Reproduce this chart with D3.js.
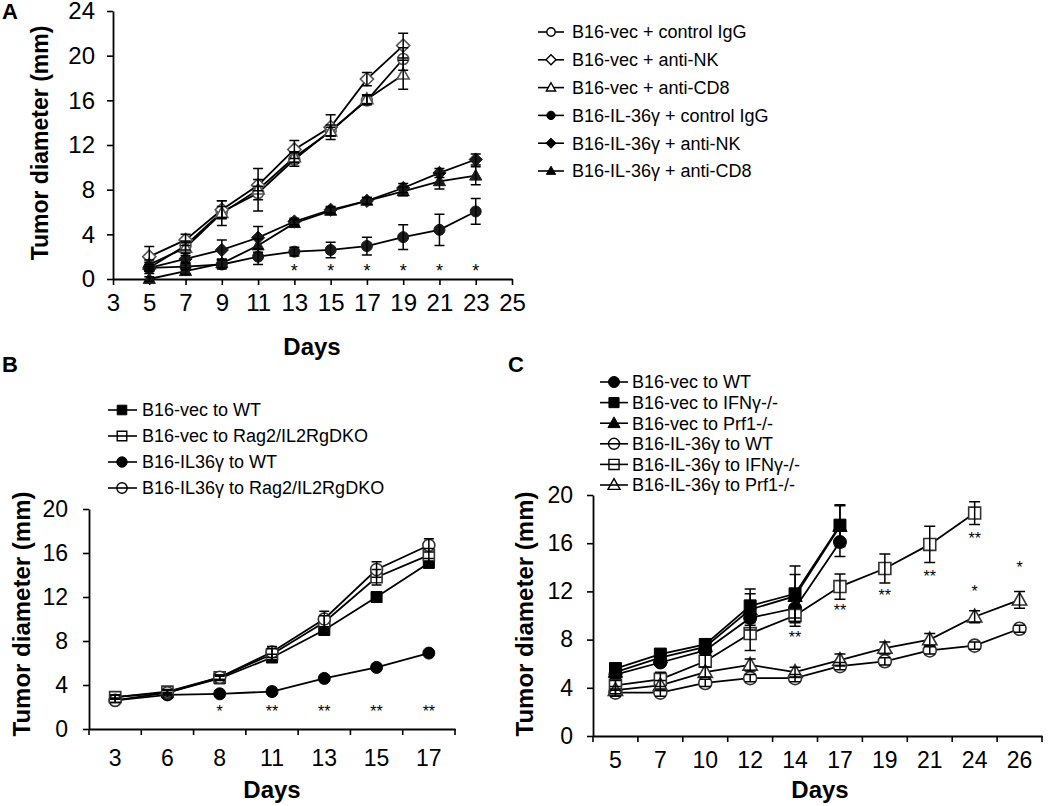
<!DOCTYPE html>
<html><head><meta charset="utf-8">
<script src="https://cdn.jsdelivr.net/npm/d3@7"></script>
<style>body{margin:0;background:#fff}</style>
</head><body><svg id="chart" width="1050" height="806"></svg>
<script>
// ---------------- DATA ----------------
// Panel A
const daysA = [5, 7, 9, 11, 13, 15, 17, 19, 21, 23];
const aXTicks = [3, 5, 7, 9, 11, 13, 15, 17, 19, 21, 23, 25];
const aYTicks = [0, 4, 8, 12, 16, 20, 24];
const aVecIgG = [1.0, 3.0, 6.0, 7.7, 10.7, 13.3, 16.0, 19.7];
const aVecIgGErr = [0.5, 0.4, 0.5, 0.6, 0.6, 0.5, 0.4, 1.0];
const aVecNK = [2.0, 3.5, 6.2, 8.4, 11.6, 13.6, 17.9, 20.9];
const aVecNKErr = [0.9, 0.5, 0.8, 0.5, 0.8, 1.1, 0.6, 1.1];
const aVecCD8 = [1.3, 2.8, 5.9, 8.0, 10.9, 13.2, 16.1, 18.3];
const aVecCD8Err = [0.4, 0.5, 1.1, 1.9, 0.5, 0.4, 0.4, 1.3];
const aIlIgG = [1.0, 1.1, 1.3, 2.0, 2.45, 2.6, 2.95, 3.75, 4.4, 6.05];
const aIlIgGErr = [0.3, 0.3, 0.4, 0.7, 0.4, 0.7, 0.8, 1.1, 1.4, 1.15];
const aIlNK = [1.0, 1.8, 2.6, 3.7, 5.15, 6.2, 7.0, 8.15, 9.5, 10.7];
const aIlNKErr = [0.3, 0.3, 0.9, 1.0, 0.3, 0.3, 0.3, 0.4, 0.4, 0.5];
const aIlCD8 = [0.0, 0.7, 1.4, 3.0, 5.0, 6.1, 7.0, 7.85, 8.75, 9.25];
const aIlCD8Err = [0.2, 0.3, 0.4, 0.6, 0.3, 0.3, 0.3, 0.4, 0.7, 0.8];
const aNames = ["B16-vec + control IgG", "B16-vec + anti-NK", "B16-vec + anti-CD8",
                "B16-IL-36γ + control IgG", "B16-IL-36γ + anti-NK", "B16-IL-36γ + anti-CD8"];
const aStarDays = [13, 15, 17, 19, 21, 23];
const aStarLevel = 1.1;

// Panel B
const daysB = ["3", "6", "8", "11", "13", "15", "17"];
const bYTicks = [0, 4, 8, 12, 16, 20];
const bVecWT = [2.9, 3.3, 4.6, 6.5, 9.0, 12.0, 15.1];
const bVecWTErr = [0.2, 0.2, 0.2, 0.3, 0.3, 0.3, 0.4];
const bVecRag = [2.9, 3.4, 4.7, 6.8, 9.7, 13.8, 15.8];
const bVecRagErr = [0.2, 0.2, 0.2, 0.5, 0.6, 0.7, 0.6];
const bIlWT = [2.6, 3.1, 3.2, 3.4, 4.6, 5.6, 6.9];
const bIlWTErr = [0.2, 0.2, 0.2, 0.2, 0.2, 0.2, 0.2];
const bIlRag = [2.6, 3.3, 4.7, 7.0, 10.0, 14.5, 16.7];
const bIlRagErr = [0.2, 0.2, 0.2, 0.5, 0.7, 0.7, 0.6];
const bNames = ["B16-vec to WT", "B16-vec to Rag2/IL2RgDKO", "B16-IL36γ to WT", "B16-IL36γ to Rag2/IL2RgDKO"];
const bStarDays = ["8", "11", "13", "15", "17"];
const bStarText = ["*", "**", "**", "**", "**"];
const bStarLevel = 1.9;

// Panel C
const daysC = ["5", "7", "10", "12", "14", "17", "19", "21", "24", "26"];
const cYTicks = [0, 4, 8, 12, 16, 20];
const cVecWT = [5.1, 6.1, 7.1, 9.8, 10.6, 16.1];
const cVecWTErr = [0.3, 0.3, 0.3, 1.0, 1.2, 1.2];
const cVecIFN = [5.6, 6.8, 7.6, 10.8, 11.8, 17.5];
const cVecIFNErr = [0.3, 0.3, 0.3, 1.4, 2.3, 1.7];
const cVecPrf = [5.3, 6.5, 7.4, 10.5, 11.6, 17.4];
const cVecPrfErr = [0.3, 0.3, 0.3, 1.3, 1.8, 1.7];
const cIlWT = [3.6, 3.6, 4.4, 4.8, 4.8, 5.8, 6.2, 7.1, 7.5, 8.9];
const cIlWTErr = [0.3, 0.3, 0.3, 0.3, 0.3, 0.3, 0.3, 0.3, 0.3, 0.3];
const cIlIFN = [4.2, 4.7, 6.2, 8.5, 10.0, 12.4, 13.9, 15.9, 18.5];
const cIlIFNErr = [0.4, 0.6, 0.5, 1.4, 0.9, 1.05, 1.2, 1.5, 0.95];
const cIlPrf = [3.8, 4.2, 5.3, 5.9, 5.3, 6.3, 7.3, 8.0, 9.9, 11.3];
const cIlPrfErr = [0.3, 0.4, 0.4, 0.5, 0.4, 0.5, 0.5, 0.5, 0.5, 0.7];
const cNames = ["B16-vec to WT", "B16-vec to IFNγ-/-", "B16-vec to Prf1-/-",
                "B16-IL-36γ to WT", "B16-IL-36γ to IFNγ-/-", "B16-IL-36γ to Prf1-/-"];
const cStarDays = ["14", "17", "19", "21", "24", "24", "26"];
const cStarText = ["**", "**", "**", "**", "**", "*", "*"];
const cStarLevel = [8.5, 10.7, 11.95, 13.5, 16.7, 12.3, 14.3];

// ---------------- DRAWING ----------------
const FONT = "'Liberation Sans', Arial, Helvetica, sans-serif";
const svg = d3.select("#chart");
svg.append("rect").attr("width", 1050).attr("height", 806).attr("fill", "#fff");

function markerPath(type, r) {
  if (type === "circle") return `M${-r},0A${r},${r} 0 1,0 ${r},0A${r},${r} 0 1,0 ${-r},0Z`;
  if (type === "square") { const s = r * 0.92; return `M${-s},${-s}H${s}V${s}H${-s}Z`; }
  if (type === "triangle") return `M0,${-r * 1.15}L${r * 1.1},${r * 0.8}L${-r * 1.1},${r * 0.8}Z`;
  if (type === "diamond") { const s = r * 1.2; return `M0,${-s}L${s},0L0,${s}L${-s},0Z`; }
}

function makeSeries(names, vals, errs, markers, filled, days) {
  return names.map((n, i) => ({ name: n, values: vals[i], err: errs[i], marker: markers[i], filled: filled[i],
    days: days.slice(0, vals[i].length) }));
}

function drawPanel(g, xPos, y, series, opt) {
  // lines
  series.forEach(s => {
    const pts = s.values.map((v, i) => [xPos(s.days[i]), y(v)]);
    g.append("path").attr("d", d3.line()(pts)).attr("fill", "none")
      .attr("stroke", "#000").attr("stroke-width", 1.8);
  });
  // markers
  series.forEach(s => {
    g.selectAll(null).data(s.values).enter().append("path")
      .attr("transform", (v, i) => `translate(${xPos(s.days[i])},${y(v)})`)
      .attr("d", markerPath(s.marker, opt.r))
      .attr("fill", s.filled ? opt.fillColor : "#fff")
      .attr("stroke", s.filled ? opt.fillColor : opt.openStroke)
      .attr("stroke-width", s.filled ? 1 : 1.6);
  });
  // error bars
  series.forEach(s => {
    s.values.forEach((v, i) => {
      const e = s.err[i], x = xPos(s.days[i]);
      const y1 = y(v - e), y2 = y(v + e), c = opt.cap;
      g.append("path").attr("d", `M${x},${y1}V${y2}M${x - c},${y1}H${x + c}M${x - c},${y2}H${x + c}`)
        .attr("fill", "none").attr("stroke", "#000").attr("stroke-width", 1.5);
    });
  });
}

function drawStars(g, xPos, y, days, texts, levels, fs) {
  days.forEach((d, i) => {
    const lv = Array.isArray(levels) ? levels[i] : levels;
    g.append("text").attr("x", xPos(d)).attr("y", y(lv) + fs * 0.57)
      .attr("text-anchor", "middle").attr("font-family", FONT).attr("font-size", fs)
      .text(texts[i]);
  });
}

function drawLegend(g, series, x0, x1, xm, xt, rows, r, fs, legendFill) {
  series.forEach((s, i) => {
    const yy = rows[i];
    g.append("line").attr("x1", x0).attr("x2", x1).attr("y1", yy).attr("y2", yy)
      .attr("stroke", "#000").attr("stroke-width", 1.6);
    g.append("path").attr("transform", `translate(${xm},${yy})`).attr("d", markerPath(s.marker, r))
      .attr("fill", s.filled ? "#000" : legendFill).attr("stroke", "#000")
      .attr("stroke-width", s.filled ? 1 : 1.4);
    g.append("text").attr("x", xt).attr("y", yy).attr("dy", "0.35em")
      .attr("font-family", FONT).attr("font-size", fs).text(s.name);
  });
}

function styleAxis(sel, fs) {
  sel.select(".domain").attr("stroke", "#000").attr("stroke-width", 1.8);
  sel.selectAll(".tick line").attr("stroke", "#000").attr("stroke-width", 1.6);
  sel.selectAll(".tick text").attr("font-family", FONT).attr("font-size", fs).attr("fill", "#000");
}

function bandTicks(g, xb, yBase, len) {
  const n = xb.domain().length, r0 = xb.range()[0];
  for (let i = 0; i <= n; i++) {
    const x = r0 + i * xb.step();
    g.append("line").attr("x1", x).attr("x2", x).attr("y1", yBase).attr("y2", yBase + len)
      .attr("stroke", "#000").attr("stroke-width", 1.6);
  }
}

function text(g, x, y, s, fs, bold, rot) {
  const t = g.append("text").attr("font-family", FONT).attr("font-size", fs)
    .attr("font-weight", bold ? "bold" : "normal").attr("text-anchor", "middle").attr("dy", "0.35em").text(s);
  if (rot) t.attr("transform", `translate(${x},${y}) rotate(-90)`);
  else t.attr("x", x).attr("y", y);
  return t;
}

// ---- Panel A ----
{
  const g = svg.append("g");
  const x = d3.scaleLinear().domain([3, 25]).range([113, 512]);
  const y = d3.scaleLinear().domain([0, 24]).range([279, 11]);
  const series = makeSeries(aNames,
    [aVecIgG, aVecNK, aVecCD8, aIlIgG, aIlNK, aIlCD8],
    [aVecIgGErr, aVecNKErr, aVecCD8Err, aIlIgGErr, aIlNKErr, aIlCD8Err],
    ["circle", "diamond", "triangle", "circle", "diamond", "triangle"],
    [false, false, false, true, true, true], daysA);
  const ya = g.append("g").attr("transform", "translate(113,0)")
    .call(d3.axisLeft(y).tickValues(aYTicks).tickSize(6).tickSizeOuter(0).tickPadding(12));
  styleAxis(ya, 24);
  const xa = g.append("g").attr("transform", "translate(0,279)")
    .call(d3.axisBottom(x).tickValues(aXTicks).tickSize(6).tickSizeOuter(0).tickPadding(9));
  styleAxis(xa, 24);
  drawPanel(g, d => x(d), y, series, { r: 5.5, cap: 5, fillColor: "#1a1a1a", openStroke: "#555" });
  drawStars(g, d => x(d), y, aStarDays, aStarDays.map(() => "*"), aStarLevel, 18);
  drawLegend(g, series, 538, 564, 551, 572, series.map((s, i) => 32 + i * 27.8), 4.2, 18, "#fff");
  text(g, 40, 143, "Tumor diameter (mm)", 23, true, true);
  text(g, 312, 347, "Days", 24, true, false);
  g.append("text").attr("x", 2).attr("y", 19).attr("font-family", FONT).attr("font-size", 22)
    .attr("font-weight", "bold").text("A");
}

// ---- Panel B ----
{
  const g = svg.append("g");
  const x = d3.scaleBand().domain(daysB).range([89, 455]);
  const xPos = d => x(d) + x.bandwidth() / 2;
  const y = d3.scaleLinear().domain([0, 20]).range([729, 509]);
  const series = makeSeries(bNames,
    [bVecWT, bVecRag, bIlWT, bIlRag],
    [bVecWTErr, bVecRagErr, bIlWTErr, bIlRagErr],
    ["square", "square", "circle", "circle"],
    [true, false, true, false], daysB);
  const ya = g.append("g").attr("transform", "translate(89,0)")
    .call(d3.axisLeft(y).tickValues(bYTicks).tickSize(6).tickSizeOuter(0).tickPadding(15));
  styleAxis(ya, 23);
  const xa = g.append("g").attr("transform", "translate(0,729)")
    .call(d3.axisBottom(x).tickSize(0).tickSizeOuter(0).tickPadding(21));
  styleAxis(xa, 23);
  bandTicks(g, x, 729, 6);
  drawPanel(g, xPos, y, series, { r: 6, cap: 5, fillColor: "#000", openStroke: "#333" });
  drawStars(g, xPos, y, bStarDays, bStarText, bStarLevel, 16);
  drawLegend(g, series, 108, 137, 122, 142, series.map((s, i) => 410 + i * 26), 5.2, 18, "none");
  text(g, 22, 614, "Tumor diameter (mm)", 24, true, true);
  text(g, 272, 790, "Days", 24, true, false);
  g.append("text").attr("x", 2).attr("y", 372).attr("font-family", FONT).attr("font-size", 22)
    .attr("font-weight", "bold").text("B");
}

// ---- Panel C ----
{
  const g = svg.append("g");
  const x = d3.scaleBand().domain(daysC).range([593, 1042]);
  const xPos = d => x(d) + x.bandwidth() / 2;
  const y = d3.scaleLinear().domain([0, 20]).range([736, 495]);
  const series = makeSeries(cNames,
    [cVecWT, cVecIFN, cVecPrf, cIlWT, cIlIFN, cIlPrf],
    [cVecWTErr, cVecIFNErr, cVecPrfErr, cIlWTErr, cIlIFNErr, cIlPrfErr],
    ["circle", "square", "triangle", "circle", "square", "triangle"],
    [true, true, true, false, false, false], daysC);
  const ya = g.append("g").attr("transform", "translate(593,0)")
    .call(d3.axisLeft(y).tickValues(cYTicks).tickSize(6).tickSizeOuter(0).tickPadding(14));
  styleAxis(ya, 23);
  const xa = g.append("g").attr("transform", "translate(0,736)")
    .call(d3.axisBottom(x).tickSize(0).tickSizeOuter(0).tickPadding(16));
  styleAxis(xa, 23);
  bandTicks(g, x, 736, 6);
  drawPanel(g, xPos, y, series, { r: 6.5, cap: 5.5, fillColor: "#000", openStroke: "#333" });
  drawStars(g, xPos, y, cStarDays, cStarText, cStarLevel, 16);
  drawLegend(g, series, 600, 628, 614, 632, series.map((s, i) => 382 + i * 20.6), 5.5, 18, "none");
  text(g, 525, 614, "Tumor diameter (mm)", 24, true, true);
  text(g, 820, 790, "Days", 24, true, false);
  g.append("text").attr("x", 508).attr("y", 372).attr("font-family", FONT).attr("font-size", 22)
    .attr("font-weight", "bold").text("C");
}
</script></body></html>
